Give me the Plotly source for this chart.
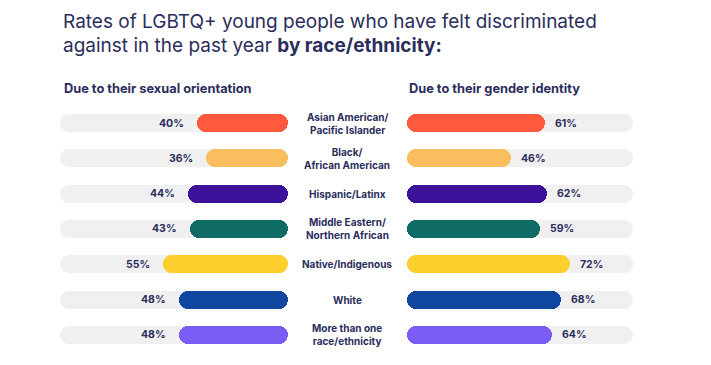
import plotly.graph_objects as go

# ---- data ----
categories = [
    "Asian American/<br>Pacific Islander",
    "Black/<br>African American",
    "Hispanic/Latinx",
    "Middle Eastern/<br>Northern African",
    "Native/Indigenous",
    "White",
    "More than one<br>race/ethnicity",
]
sexual_orientation = [40, 36, 44, 43, 55, 48, 48]
gender_identity = [61, 46, 62, 59, 72, 68, 64]
bar_colors = ["#FF5A3D", "#FBBE5E", "#3B1299", "#0E6B66", "#FDD02E", "#0F47A1", "#7B5CF5"]
track_max = 100

title_line1 = "Rates of LGBTQ+ young people who have felt discriminated"
title_line2 = "against in the past year <b>by race/ethnicity:</b>"
left_heading = "Due to their sexual orientation"
right_heading = "Due to their gender identity"

# ---- layout constants (pixels, in the reference frame) ----
W, H = 711, 365
OFF = 8  # page body margin shifts the figure by this many pixels
NAVY = "#2B2D5C"
FONT = "Inter"
TRACK = "#F0F0F1"
row_top_px, row_step_px = 123, 35.33
bar_px = 18
rows = list(range(len(categories)))
bar_w = bar_px / row_step_px

L0, L1 = 60, 288   # left track pixel extent
R0, R1 = 407, 633  # right track pixel extent

y_top = -(row_top_px - OFF) / row_step_px
y_bottom = y_top + H / row_step_px


def px_x(p):
    return (p - OFF) / W


def px_y(p):
    return 1 - (p - OFF) / H


fig = go.Figure()


def pill(values, color, xaxis):
    fig.add_trace(go.Bar(
        orientation="h", y=rows, x=values, base=[0] * len(values),
        width=bar_w, marker=dict(color=color, cornerradius=bar_px / 2, line=dict(width=0)),
        xaxis=xaxis, yaxis="y", hoverinfo="skip", showlegend=False,
    ))


pill([track_max] * len(rows), TRACK, "x")
pill([track_max] * len(rows), TRACK, "x2")
pill(sexual_orientation, bar_colors, "x")
pill(gender_identity, bar_colors, "x2")

ann = []
for r, cat, so, gi in zip(rows, categories, sexual_orientation, gender_identity):
    ann.append(dict(x=px_x(347), xref="paper", y=r, yref="y", text=f"<b>{cat}</b>",
                    showarrow=False, xanchor="center", yanchor="middle",
                    font=dict(size=10, color=NAVY, family=FONT)))
    ann.append(dict(x=so, xref="x", y=r, yref="y", text=f"<b>{so}%</b>", showarrow=False,
                    xanchor="right", yanchor="middle", xshift=-11,
                    font=dict(size=10.5, color=NAVY, family=FONT)))
    ann.append(dict(x=gi, xref="x2", y=r, yref="y", text=f"<b>{gi}%</b>", showarrow=False,
                    xanchor="left", yanchor="middle", xshift=8,
                    font=dict(size=10.5, color=NAVY, family=FONT)))

ann += [
    dict(x=px_x(61), y=px_y(22), xref="paper", yref="paper", text=title_line1, showarrow=False,
         xanchor="left", yanchor="middle", font=dict(size=19, color=NAVY, family=FONT)),
    dict(x=px_x(61), y=px_y(45), xref="paper", yref="paper", text=title_line2, showarrow=False,
         xanchor="left", yanchor="middle", font=dict(size=19, color=NAVY, family=FONT)),
    dict(x=px_x(62), y=px_y(88), xref="paper", yref="paper", text=f"<b>{left_heading}</b>",
         showarrow=False, xanchor="left", yanchor="middle", font=dict(size=12.8, color=NAVY, family=FONT)),
    dict(x=px_x(407), y=px_y(88), xref="paper", yref="paper", text=f"<b>{right_heading}</b>",
         showarrow=False, xanchor="left", yanchor="middle", font=dict(size=12.8, color=NAVY, family=FONT)),
]

hidden = dict(showgrid=False, zeroline=False, showticklabels=False, showline=False, ticks="")
fig.update_layout(
    width=W, height=H, margin=dict(l=0, r=0, t=0, b=0),
    paper_bgcolor="white", plot_bgcolor="white", barmode="overlay", bargap=0,
    showlegend=False, annotations=ann,
    xaxis=dict(domain=[px_x(L0), px_x(L1)], range=[track_max, 0], **hidden),
    xaxis2=dict(domain=[px_x(R0), px_x(R1)], range=[0, track_max], **hidden),
    yaxis=dict(domain=[0, 1], range=[y_bottom, y_top], **hidden),
)

fig.write_html("out.html")
